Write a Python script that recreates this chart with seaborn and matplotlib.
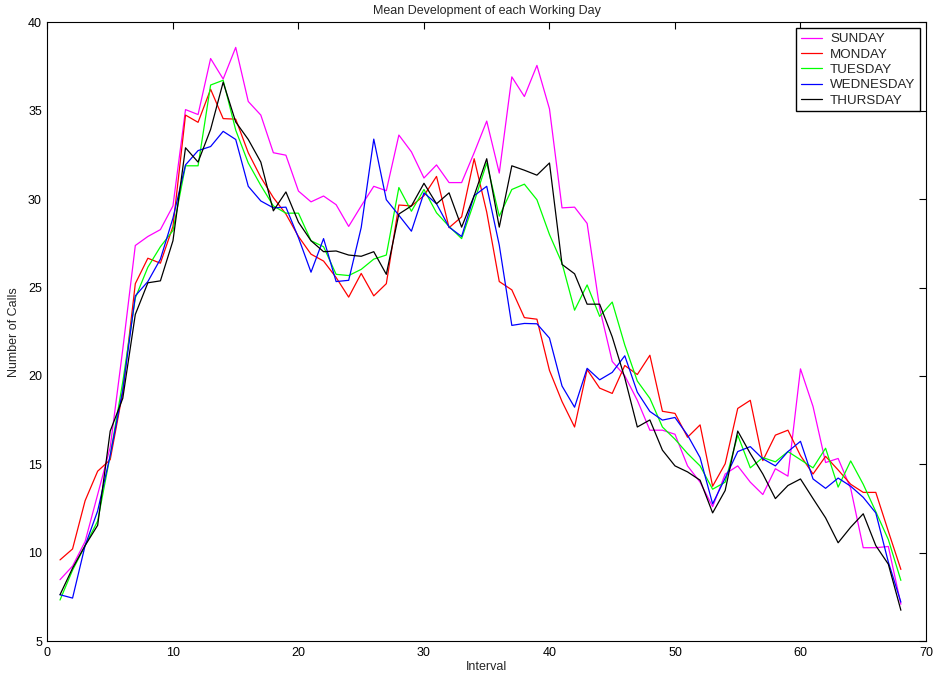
import numpy as np
import pandas as pd
import seaborn as sns
import matplotlib
matplotlib.use("Agg")
import matplotlib.pyplot as plt

intervals = list(range(1, 69))

sunday = [8.47, 9.24, 10.63, 13.29, 15.96, 21.5, 27.38, 27.89, 28.28, 29.62,
          35.07, 34.79, 37.96, 36.8, 38.59, 35.53, 34.76, 32.63, 32.49, 30.46,
          29.85, 30.18, 29.69, 28.46, 29.62, 30.73, 30.48, 33.63, 32.68, 31.2,
          31.94, 30.94, 30.94, 32.63, 34.42, 31.48, 36.92, 35.81, 37.57, 35.11,
          29.51, 29.55, 28.63, 23.83, 20.82, 20.01, 18.62, 16.93, 16.93, 16.7,
          14.91, 13.99, 12.6, 14.45, 14.91, 13.99, 13.29, 14.75, 14.33, 20.4,
          18.27, 15.1, 15.33, 13.64, 10.28, 10.28, 10.35, 7.08]

monday = [9.59, 10.21, 12.94, 14.61, 15.26, 19.08, 25.22, 26.66, 26.38, 28.46,
          34.76, 34.35, 36.22, 34.56, 34.53, 32.63, 31.24, 30.09, 29.16, 27.89,
          26.89, 26.5, 25.57, 24.46, 25.8, 24.53, 25.22, 29.67, 29.62, 30.2,
          31.29, 28.39, 29.0, 32.29, 29.27, 25.34, 24.87, 23.3, 23.21, 20.31,
          18.55, 17.11, 20.36, 19.31, 19.01, 20.59, 20.08, 21.17, 18.0, 17.88,
          16.53, 17.23, 13.76, 15.03, 18.16, 18.62, 15.21, 16.65, 16.93, 15.49,
          14.45, 15.45, 14.68, 13.87, 13.41, 13.41, 11.21, 9.05]

tuesday = [7.32, 9.01, 10.4, 11.79, 15.5, 19.66, 24.41, 26.15, 27.31, 28.23,
           31.89, 31.89, 36.46, 36.73, 33.91, 32.05, 30.78, 29.62, 29.21, 29.21,
           27.65, 27.31, 25.75, 25.68, 26.03, 26.61, 26.84, 30.66, 29.32, 30.55,
           29.23, 28.46, 27.77, 29.85, 32.05, 29.04, 30.55, 30.85, 29.97, 28.0,
           26.38, 23.72, 25.15, 23.37, 24.18, 21.75, 19.71, 18.73, 17.11, 16.42,
           15.61, 14.91, 13.59, 13.99, 16.65, 14.8, 15.38, 15.14, 15.72, 15.26,
           14.8, 15.91, 13.71, 15.19, 13.87, 12.32, 10.74, 8.43]

wednesday = [7.62, 7.43, 10.4, 12.36, 15.5, 19.2, 24.53, 25.34, 26.61, 28.93,
             31.94, 32.75, 32.98, 33.84, 33.38, 30.73, 29.9, 29.51, 29.55, 27.82,
             25.87, 27.77, 25.34, 25.41, 28.4, 33.4, 29.97, 29.09, 28.19, 30.36,
             29.74, 28.42, 27.89, 30.2, 30.73, 27.4, 22.86, 22.97, 22.95, 22.14,
             19.43, 18.23, 20.43, 19.78, 20.2, 21.14, 19.08, 17.99, 17.5, 17.65,
             16.65, 15.38, 12.76, 14.22, 15.72, 16.0, 15.31, 14.91, 15.72, 16.3,
             14.17, 13.64, 14.22, 13.76, 13.13, 12.25, 9.47, 7.2]

thursday = [7.62, 9.12, 10.4, 11.55, 16.88, 18.73, 23.48, 25.27, 25.38, 27.65,
            32.91, 32.1, 33.95, 36.62, 34.37, 33.38, 32.1, 29.34, 30.41, 28.7,
            27.65, 27.03, 27.07, 26.84, 26.77, 27.03, 25.75, 29.16, 29.62, 30.9,
            29.74, 30.36, 28.42, 30.2, 32.29, 28.42, 31.89, 31.64, 31.36, 32.05,
            26.31, 25.78, 24.06, 24.06, 22.21, 19.89, 17.11, 17.51, 15.8, 14.91,
            14.57, 14.1, 12.25, 13.52, 16.88, 15.61, 14.45, 13.06, 13.8, 14.17,
            13.06, 11.97, 10.56, 11.44, 12.2, 10.4, 9.35, 6.74]

days = ["SUNDAY", "MONDAY", "TUESDAY", "WEDNESDAY", "THURSDAY"]
series = [sunday, monday, tuesday, wednesday, thursday]
colors = ["#ff00ff", "#ff0000", "#00ff00", "#0000ff", "#000000"]

x_ticks = [0, 10, 20, 30, 40, 50, 60, 70]
y_ticks = [5, 10, 15, 20, 25, 30, 35, 40]

df = pd.DataFrame({
    "Interval": np.tile(intervals, len(days)),
    "Calls": np.concatenate(series),
    "Day": np.repeat(days, len(intervals)),
})

sns.set_style("white")
plt.rcParams["font.family"] = ["Liberation Sans", "DejaVu Sans"]
plt.rcParams["xtick.direction"] = "in"
plt.rcParams["ytick.direction"] = "in"

fig = plt.figure(figsize=(9.36, 6.81), dpi=100)
ax = fig.add_axes([0.0507, 0.0587, 0.9386, 0.9083])

sns.lineplot(data=df, x="Interval", y="Calls", hue="Day", hue_order=days,
             palette=dict(zip(days, colors)), estimator=None, linewidth=0.9,
             ax=ax)

ax.set_xlim(0, 70)
ax.set_ylim(5, 40)
ax.set_xticks(x_ticks)
ax.set_yticks(y_ticks)
ax.tick_params(axis="both", which="both", labelsize=9, length=5, width=0.8,
               top=True, right=True, colors="black", pad=4)
for s in ax.spines.values():
    s.set_visible(True)
    s.set_color("black")
    s.set_linewidth(0.8)

ax.set_xlabel("Interval", fontsize=9, labelpad=2)
ax.set_ylabel("Number of Calls", fontsize=9, labelpad=6)
ax.set_title("Mean Development of each Working Day", fontsize=9, pad=6)

handles, labels = ax.get_legend_handles_labels()
leg = ax.legend(handles, labels, loc="upper right", fontsize=9.6,
                frameon=True, fancybox=False, edgecolor="black",
                framealpha=1, borderaxespad=0.45, handlelength=1.6,
                handletextpad=0.6, labelspacing=0.22, borderpad=0.35)
leg.get_frame().set_linewidth(1.0)

fig.savefig("out.png", dpi=100)
